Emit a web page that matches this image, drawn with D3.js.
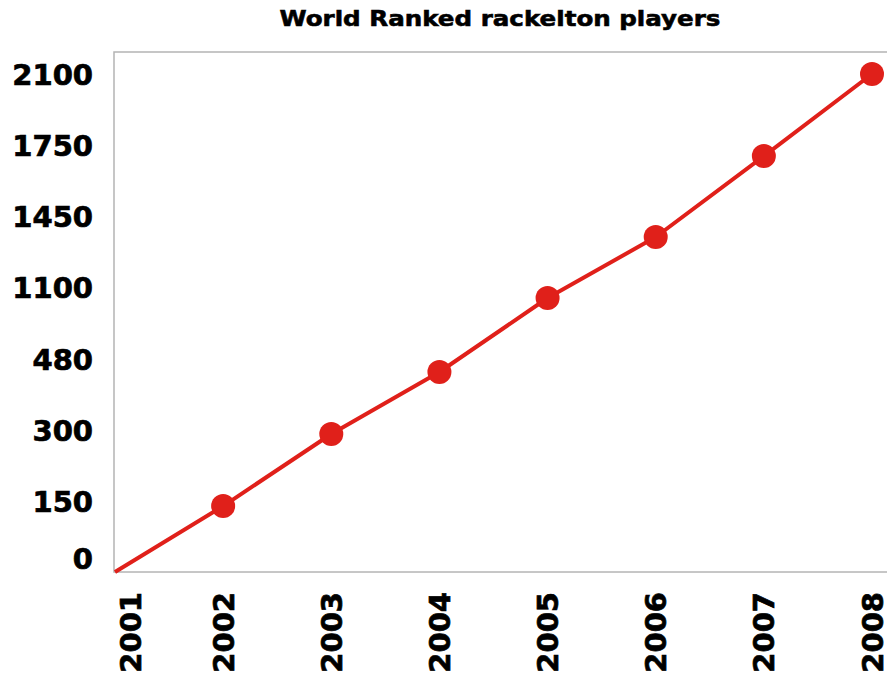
<!DOCTYPE html>
<html>
<head>
<meta charset="utf-8">
<script src="https://cdn.jsdelivr.net/npm/d3@7"></script>
<style>
html,body{margin:0;padding:0;background:#fff;}
svg{display:block;}
text{font-family:"DejaVu Sans",sans-serif;font-weight:bold;fill:#000;stroke:#000;stroke-width:0.7px;}
</style>
</head>
<body>
<svg id="chart" width="887" height="676"></svg>
<script>
const years = ["2001","2002","2003","2004","2005","2006","2007","2008"];
const players = [0, 139, 291, 446, 1008, 1348, 1704, 2100];
const yTicks = [0, 150, 300, 480, 1100, 1450, 1750, 2100];
const title = "World Ranked rackelton players";

const W = 887, H = 676;
const frame = {left:114, top:52, bottom:572, right:900};
const plot = {x0:115, x1:872, y0:572, y1:74};

const svg = d3.select("#chart");

// frame
svg.append("rect")
  .attr("x", frame.left).attr("y", frame.top)
  .attr("width", frame.right - frame.left).attr("height", frame.bottom - frame.top)
  .attr("fill", "none").attr("stroke", "#b4b4b4").attr("stroke-width", 1.5);

const x = d3.scalePoint().domain(years).range([plot.x0, plot.x1]);
const step = (plot.y0 - plot.y1) / (yTicks.length - 1);
const y = d3.scaleLinear()
  .domain(yTicks)
  .range(yTicks.map((d, i) => plot.y0 - i * step));

// title
svg.append("text")
  .attr("x", 500).attr("y", 26)
  .attr("text-anchor", "middle")
  .attr("font-size", 22)
  .attr("textLength", 441)
  .attr("lengthAdjust", "spacingAndGlyphs")
  .style("stroke-width", "0.6px")
  .text(title);

// y axis labels
const yAxis = d3.axisLeft(y).tickValues(yTicks).tickSize(0).tickPadding(0).tickFormat(d3.format("d"));
const gy = svg.append("g").attr("transform", `translate(93,0)`).call(yAxis);
gy.select(".domain").remove();
gy.selectAll(".tick text")
  .attr("font-size", 29)
  .attr("font-family", "DejaVu Sans")
  .attr("font-weight", "bold")
  .attr("fill", "#000")
  .attr("dy", d => d === 0 ? "-0.12em" : "0.36em");

// x axis labels (rotated)
const gx = svg.append("g");
gx.selectAll("text").data(years).enter().append("text")
  .attr("transform", (d, i) => {
    const cx = Math.max(x(d), plot.x0 + 15);
    return `translate(${cx + 10.5},592) rotate(-90)`;
  })
  .attr("text-anchor", "end")
  .attr("font-size", 29)
  .text(d => d);

// line
const data = years.map((d, i) => ({year:d, v:players[i]}));
const line = d3.line().x(d => x(d.year)).y(d => y(d.v));
svg.append("path")
  .datum(data)
  .attr("d", line)
  .attr("fill", "none")
  .attr("stroke", "#e0201a")
  .attr("stroke-width", 4)
  .attr("stroke-linejoin", "round");

svg.selectAll("circle.pt")
  .data(data.filter(d => d.v > 0))
  .enter().append("circle")
  .attr("class", "pt")
  .attr("cx", d => x(d.year))
  .attr("cy", d => y(d.v))
  .attr("r", 12)
  .attr("fill", "#e0201a");
</script>
</body>
</html>
